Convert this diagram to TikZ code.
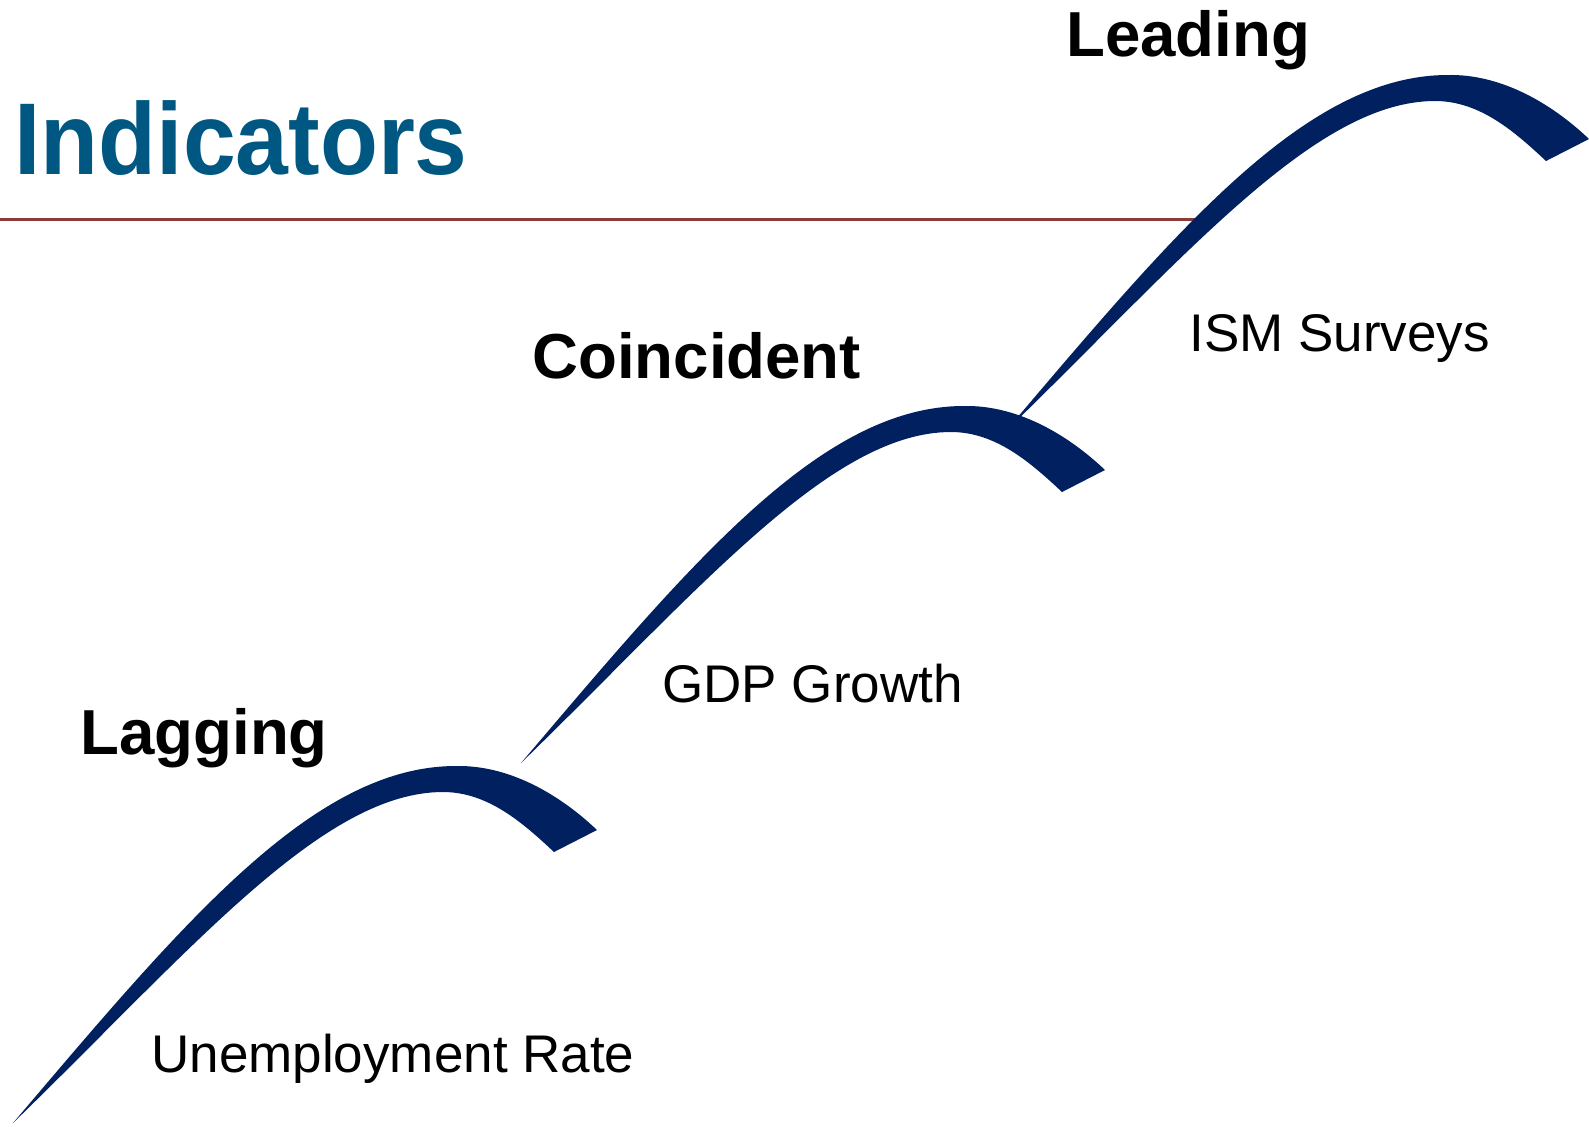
\documentclass[tikz,border=0pt]{standalone}
\usepackage{fontspec}
\setmainfont{Liberation Sans}
\usepackage{graphicx}
\usepackage{tikz}
\definecolor{arcblue}{RGB}{0,32,96}
\definecolor{titleblue}{RGB}{0,88,130}
\definecolor{rulered}{RGB}{140,60,55}
\tikzset{title label/.style={anchor=base west,inner sep=0,text=titleblue,font=\fontsize{51}{51}\selectfont\bfseries}}
\tikzset{stage label/.style={anchor=base west,inner sep=0,font=\fontsize{31.8}{31.8}\selectfont\bfseries}}
\tikzset{item label/.style={anchor=base west,inner sep=0,font=\fontsize{26.5}{26.5}\selectfont}}
\tikzset{stage arc/.pic={
    \fill[arcblue] (0,0) .. controls (170,-200) and (300,-357) .. (443,-357)
      .. controls (495,-358) and (545,-330) .. (584,-293)
      -- (541,-271) .. controls (510,-300) and (475,-331) .. (430,-331)
      .. controls (310,-331) and (180,-175) .. (0,0) -- cycle;
  }}

\begin{document}
\begin{tikzpicture}[x=0.5pt,y=-0.5pt]
          \useasboundingbox (0,0) rectangle (1589,1126);

            %タイトル
            \node[title label] (title) at (14,174) {\scalebox{0.93}[1]{Indicators}};
            \draw[rulered, line width=1.5pt] (0,219) -- (1200,219);

            %弧
            \pic (lagarc) at (13,1123) {stage arc};
            \pic (coinarc) at (521,763) {stage arc};
            \pic (leadarc) at (1005,432) {stage arc};

            %ラベル
            \node[stage label] (lagging) at (80,754) {Lagging};
            \node[stage label] (coincident) at (532,378) {Coincident};
            \node[stage label] (leading) at (1066,56) {Leading};
            \node[item label] (unemp) at (151,1072) {Unemployment Rate};
            \node[item label] (gdp) at (662,702) {GDP Growth};
            \node[item label] (ism) at (1189,351) {ISM Surveys};

          \end{tikzpicture}
\end{document}
